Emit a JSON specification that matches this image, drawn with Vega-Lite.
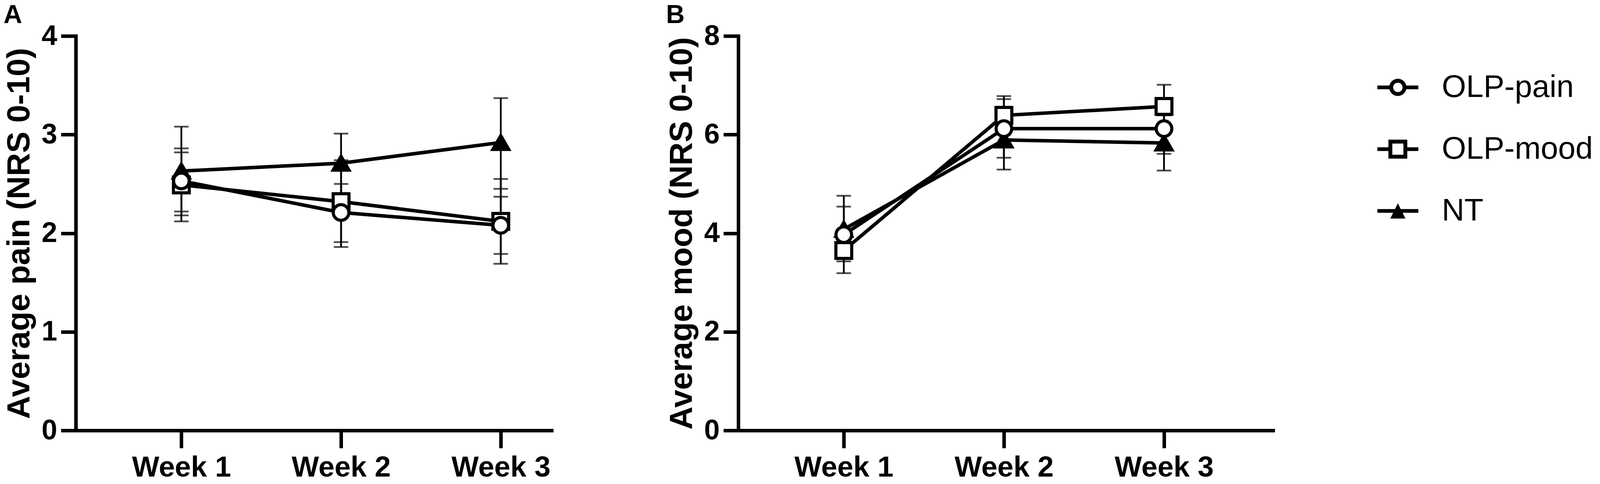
{
  "$schema": "https://vega.github.io/schema/vega-lite/v6.json",
  "description": "Average pain (A) and mood (B) over three weeks, mean with error bars, for OLP-pain, OLP-mood and NT groups.",
  "background": "white",
  "padding": {"left": 8, "top": 6, "right": 0, "bottom": 0},
  "config": {
    "font": "Liberation Sans",
    "view": {"stroke": null},
    "axis": {
      "grid": false,
      "domainColor": "black",
      "domainWidth": 9,
      "domainCap": "square",
      "tickColor": "black",
      "tickWidth": 9,
      "labelColor": "black",
      "labelFont": "Liberation Sans",
      "labelFontWeight": "bold",
      "labelLimit": 0,
      "titleFont": "Liberation Sans",
      "titleColor": "black",
      "titleFontWeight": "bold"
    },
    "axisX": {"tickSize": 45, "labelPadding": 14, "labelFontSize": 74},
    "axisY": {"tickSize": 38, "labelPadding": 10, "labelFontSize": 72, "titleFontSize": 82, "titlePadding": 14, "format": "d"},
    "title": {"font": "Liberation Sans", "fontSize": 66, "fontWeight": "bold", "color": "black", "anchor": "start", "frame": "bounds", "offset": -17}
  },
  "data": {
    "values": [
      {"panel": "A", "group": "NT", "week": 1, "mean": 2.63, "lo": 2.18, "hi": 3.08},
      {"panel": "A", "group": "NT", "week": 2, "mean": 2.71, "lo": 2.40, "hi": 3.01},
      {"panel": "A", "group": "NT", "week": 3, "mean": 2.92, "lo": 2.45, "hi": 3.37},
      {"panel": "A", "group": "OLP-mood", "week": 1, "mean": 2.49, "lo": 2.12, "hi": 2.82},
      {"panel": "A", "group": "OLP-mood", "week": 2, "mean": 2.32, "lo": 1.86, "hi": 2.74},
      {"panel": "A", "group": "OLP-mood", "week": 3, "mean": 2.12, "lo": 1.69, "hi": 2.55},
      {"panel": "A", "group": "OLP-pain", "week": 1, "mean": 2.53, "lo": 2.22, "hi": 2.86},
      {"panel": "A", "group": "OLP-pain", "week": 2, "mean": 2.21, "lo": 1.91, "hi": 2.50},
      {"panel": "A", "group": "OLP-pain", "week": 3, "mean": 2.08, "lo": 1.79, "hi": 2.37},
      {"panel": "B", "group": "NT", "week": 1, "mean": 4.08, "lo": 3.62, "hi": 4.54},
      {"panel": "B", "group": "NT", "week": 2, "mean": 5.89, "lo": 5.29, "hi": 6.49},
      {"panel": "B", "group": "NT", "week": 3, "mean": 5.83, "lo": 5.27, "hi": 6.39},
      {"panel": "B", "group": "OLP-mood", "week": 1, "mean": 3.65, "lo": 3.43, "hi": 3.87},
      {"panel": "B", "group": "OLP-mood", "week": 2, "mean": 6.39, "lo": 6.00, "hi": 6.78},
      {"panel": "B", "group": "OLP-mood", "week": 3, "mean": 6.57, "lo": 6.13, "hi": 7.01},
      {"panel": "B", "group": "OLP-pain", "week": 1, "mean": 3.97, "lo": 3.19, "hi": 4.76},
      {"panel": "B", "group": "OLP-pain", "week": 2, "mean": 6.12, "lo": 5.53, "hi": 6.72},
      {"panel": "B", "group": "OLP-pain", "week": 3, "mean": 6.12, "lo": 5.61, "hi": 6.64}
    ]
  },
  "spacing": 292,
  "resolve": {"scale": {"shape": "independent", "fill": "independent", "size": "independent"}},
  "hconcat": [
    {
      "title": {"text": "A"},
      "width": 1218,
      "height": 1009,
      "transform": [{"filter": "datum.panel == 'A'"}],
      "encoding": {
        "x": {
          "field": "week",
          "type": "quantitative",
          "scale": {"domain": [0.339, 3.318], "nice": false, "zero": false},
          "axis": {"title": null, "values": [1, 2, 3], "labelExpr": "'Week ' + datum.value"}
        }
      },
      "layer": [
        {
          "mark": {"type": "errorbar", "ticks": true, "size": 37, "thickness": 4.5, "color": "black"},
          "encoding": {
            "y": {"field": "lo", "type": "quantitative", "title": "Average pain (NRS 0-10)",
                  "scale": {"domain": [0, 4], "nice": false}, "axis": {"values": [0, 1, 2, 3, 4]}},
            "y2": {"field": "hi"}
          }
        },
        {
          "mark": {"type": "line", "strokeWidth": 9, "color": "black"},
          "encoding": {
            "y": {"field": "mean", "type": "quantitative", "title": "Average pain (NRS 0-10)"},
            "detail": {"field": "group"}
          }
        },
        {
          "mark": {"type": "point", "filled": true, "stroke": "black", "strokeWidth": 8, "opacity": 1},
          "encoding": {
            "y": {"field": "mean", "type": "quantitative", "title": "Average pain (NRS 0-10)"},
            "shape": {"field": "group", "scale": {"domain": ["OLP-pain", "OLP-mood", "NT"], "range": ["circle", "square", "triangle-up"]}, "legend": null},
            "fill": {"field": "group", "scale": {"domain": ["OLP-pain", "OLP-mood", "NT"], "range": ["white", "white", "black"]}, "legend": null},
            "size": {"field": "group", "type": "nominal", "scale": {"domain": ["OLP-pain", "OLP-mood", "NT"], "range": [1600, 1680, 1050]}, "legend": null}
          }
        }
      ]
    },
    {
      "title": {"text": "B"},
      "width": 1369,
      "height": 1009,
      "transform": [{"filter": "datum.panel == 'B'"}],
      "resolve": {"scale": {"shape": "independent"}, "legend": {"shape": "independent"}},
      "layer": [
        {
          "mark": {"type": "errorbar", "ticks": true, "size": 37, "thickness": 4.5, "color": "black"},
          "encoding": {
            "x": {
              "field": "week",
              "type": "quantitative",
              "scale": {"domain": [0.341, 3.681], "nice": false, "zero": false},
              "axis": {"title": null, "values": [1, 2, 3], "labelExpr": "'Week ' + datum.value"}
            },
            "y": {"field": "lo", "type": "quantitative", "title": "Average mood (NRS 0-10)",
                  "scale": {"domain": [0, 8], "nice": false}, "axis": {"values": [0, 2, 4, 6, 8]}},
            "y2": {"field": "hi"}
          }
        },
        {
          "mark": {"type": "line", "strokeWidth": 9, "color": "black"},
          "encoding": {
            "x": {"field": "week", "type": "quantitative"},
            "y": {"field": "mean", "type": "quantitative", "title": "Average mood (NRS 0-10)"},
            "detail": {"field": "group"}
          }
        },
        {
          "mark": {"type": "point", "filled": true, "stroke": "black", "strokeWidth": 8, "opacity": 1},
          "encoding": {
            "x": {"field": "week", "type": "quantitative"},
            "y": {"field": "mean", "type": "quantitative", "title": "Average mood (NRS 0-10)"},
            "shape": {"field": "group", "scale": {"domain": ["OLP-pain", "OLP-mood", "NT"], "range": ["circle", "square", "triangle-up"]}, "legend": null},
            "fill": {"field": "group", "scale": {"domain": ["OLP-pain", "OLP-mood", "NT"], "range": ["white", "white", "black"]}, "legend": null},
            "size": {"field": "group", "type": "nominal", "scale": {"domain": ["OLP-pain", "OLP-mood", "NT"], "range": [1600, 1680, 1050]}, "legend": null}
          }
        },
        {
          "transform": [{"filter": "datum.week == 1"}],
          "mark": {"type": "point", "filled": true, "color": "black", "opacity": 0},
          "encoding": {
            "shape": {
              "field": "group",
              "scale": {
                "domain": ["OLP-pain", "OLP-mood", "NT"],
                "range": [
                  "M-1,-0.09H-0.41V0.09H-1Z M0.41,-0.09H1V0.09H0.41Z M0,-0.42A0.42,0.42 0 1,1 0,0.42A0.42,0.42 0 1,1 0,-0.42Z M0,-0.23A0.23,0.23 0 1,0 0,0.23A0.23,0.23 0 1,0 0,-0.23Z",
                  "M-1,-0.09H-0.46V0.09H-1Z M0.46,-0.09H1V0.09H0.46Z M-0.46,-0.46H0.46V0.46H-0.46Z M-0.27,-0.27V0.27H0.27V-0.27Z",
                  "M-1,-0.09H1V0.09H-1Z M0,-0.37L0.37,0.37H-0.37Z"
                ]
              },
              "legend": {
                "title": null,
                "orient": "none",
                "legendX": 1636,
                "legendY": 79,
                "padding": 0,
                "symbolSize": 11025,
                "symbolStrokeWidth": 0,
                "symbolFillColor": "black",
                "symbolOpacity": 1,
                "labelFont": "Liberation Sans",
                "labelFontSize": 80,
                "labelFontWeight": "normal",
                "labelColor": "black",
                "labelOffset": 60,
                "labelLimit": 0,
                "rowPadding": 65,
                "encode": {"symbols": {"update": {"opacity": {"value": 1}, "fill": {"value": "black"}, "strokeWidth": {"value": 0}}}}
              }
            }
          }
        }
      ]
    }
  ]
}
